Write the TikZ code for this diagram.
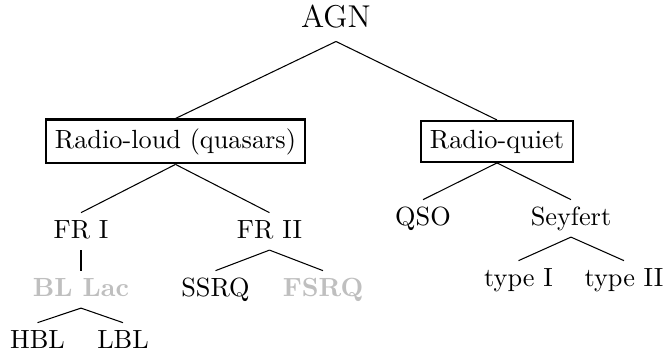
\documentclass[tikz,border=0pt]{standalone}
\begin{document}
\begin{tikzpicture}[x=0.3802pt, y=-0.3802pt,
  leaf/.style={anchor=base, inner xsep=3.33pt, inner ysep=2.5pt, text height=6.94pt, text depth=1.9pt},
  boxnode/.style={anchor=base, draw, thick, inner sep=3.33pt},
  hl/.style={text=lightgray, font=\bfseries},
  edge/.style={line width=0.4pt}]
\useasboundingbox (0,0) rectangle (664,356);
\node[leaf, font=\large, text depth=2.8pt] (agn) at (336,27) {AGN};
\node[boxnode] (rl) at (175.5,148) {Radio-loud (quasars)};
\node[boxnode] (rq) at (497,148) {Radio-quiet};
\node[leaf] (fr1) at (81,238) {FR I};
\node[leaf] (fr2) at (269.5,238) {FR II};
\node[leaf] (qso) at (423,225) {QSO};
\node[leaf] (sey) at (571,225) {Seyfert};
\node[leaf, hl] (bll) at (81,296) {BL Lac};
\node[leaf] (ssrq) at (215.5,296) {SSRQ};
\node[leaf, hl] (fsrq) at (323,296) {FSRQ};
\node[leaf] (t1) at (518.5,286) {type I};
\node[leaf] (t2) at (624,286) {type II};
\node[leaf] (hbl) at (37.5,348) {HBL};
\node[leaf] (lbl) at (123,348) {LBL};
\draw[edge] (agn.south) -- (rl.north);
\draw[edge] (agn.south) -- (rq.north);
\draw[edge] (rl.south) -- (fr1.north);
\draw[edge] (rl.south) -- (fr2.north);
\draw[edge] (rq.south) -- (qso.north);
\draw[edge] (rq.south) -- (sey.north);
\draw[edge, line width=0.8pt] (fr1.south) -- (bll.north);
\draw[edge] (fr2.south) -- (ssrq.north);
\draw[edge] (fr2.south) -- (fsrq.north);
\draw[edge] (bll.south) -- (hbl.north);
\draw[edge] (bll.south) -- (lbl.north);
\draw[edge] (sey.south) -- (t1.north);
\draw[edge] (sey.south) -- (t2.north);
\end{tikzpicture}
\end{document}
